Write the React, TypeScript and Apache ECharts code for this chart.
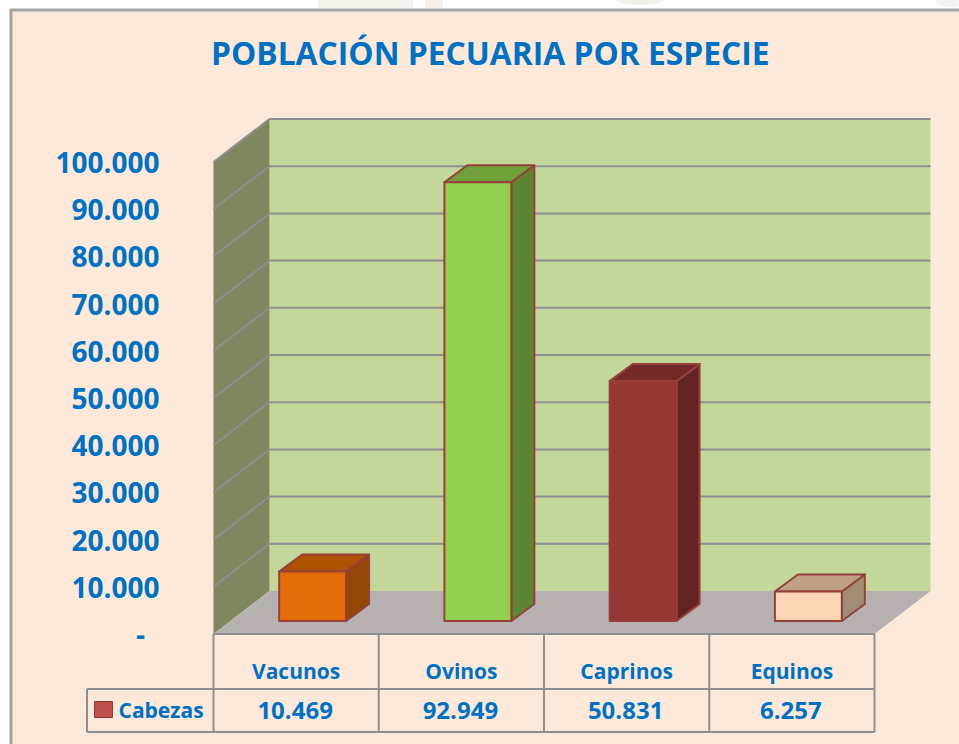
import React, { useEffect, useRef } from "react";
import * as echarts from "echarts";

const categories = ["Vacunos", "Ovinos", "Caprinos", "Equinos"];
const cabezas = [10469, 92949, 50831, 6257];
const yTicks = [0, 10000, 20000, 30000, 40000, 50000, 60000, 70000, 80000, 90000, 100000];
const seriesName = "Cabezas";
const titleText = "POBLACIÓN PECUARIA POR ESPECIE";

const faces = [
  { front: "#E36C09", top: "#AE5204", side: "#934605" },
  { front: "#92D050", top: "#6FA03A", side: "#5E8532" },
  { front: "#953735", top: "#742A28", side: "#632320" },
  { front: "#FCD5B5", top: "#BFA087", side: "#A38C75" },
];

const BLUE = "#0070C0";
const GREY = "#8E8E8E";
const EDGE = "#96403A";
const DX = 56;
const DY = 43;
const fmt = (v: number) => v.toLocaleString("de-DE");

export default function App() {
  const ref = useRef<HTMLDivElement>(null);
  useEffect(() => {
    const chart = echarts.init(ref.current!, null, { renderer: "svg" });
    chart.setOption({
      animation: false,
      backgroundColor: "#FFFFFF",
      title: {
        text: titleText,
        left: 206,
        top: 31,
        textStyle: { color: BLUE, fontFamily: "Open Sans", fontWeight: 700, fontSize: 31.8 },
      },
      legend: {
        data: [{ name: seriesName, icon: "rect" }],
        left: 94,
        top: 699,
        itemWidth: 18,
        itemHeight: 16,
        itemGap: 0,
        padding: 0,
        selectedMode: false,
        itemStyle: { color: "#C0504D", borderColor: "#8C3836", borderWidth: 1 },
        textStyle: { color: BLUE, fontFamily: "Open Sans", fontWeight: 700, fontSize: 21, padding: [0, 0, 0, 1] },
      },
      grid: { left: 213.5, top: 162, width: 661, height: 472 },
      xAxis: {
        type: "category",
        data: categories,
        axisLine: { show: false },
        axisTick: { show: false },
        splitLine: { show: false },
        axisLabel: {
          margin: 26,
          color: BLUE,
          fontFamily: "Open Sans",
          fontWeight: 700,
          fontSize: 21,
        },
      },
      yAxis: {
        type: "value",
        min: 0,
        max: 100000,
        interval: 10000,
        axisLine: { show: false },
        axisTick: { show: false },
        splitLine: { show: false },
        axisLabel: {
          margin: 54,
          formatter: (v: number) => (v === 0 ? "-\u00A0\u00A0" : fmt(v)),
          color: BLUE,
          fontFamily: "Open Sans",
          fontWeight: 700,
          fontSize: 28,
        },
      },
      graphic: [
        { type: "rect", z: -11, silent: true, shape: { x: 318, y: 0, width: 95, height: 8 }, style: { fill: "#F5F3ED" } },
        { type: "rect", z: -11, silent: true, shape: { x: 425, y: 0, width: 18, height: 8 }, style: { fill: "#F5F1EA" } },
        { type: "ellipse", z: -11, silent: true, shape: { cx: 640, cy: 0, rx: 24, ry: 5 }, style: { fill: "#F3F1EC" } },
        { type: "ellipse", z: -11, silent: true, shape: { cx: 950, cy: 0, rx: 14, ry: 7 }, style: { fill: "#F5F3EE" } },
        {
          type: "rect",
          z: -10,
          silent: true,
          shape: { x: 11, y: 10, width: 960, height: 760 },
          style: { fill: "#FDE9DA", stroke: "#A3A3A0", lineWidth: 3 },
        },
      ],
      series: [
        {
          type: "custom",
          name: "walls",
          z: 1,
          silent: true,
          data: [[0, 0]],
          renderItem: (params: any) => {
            const { x, y, width: w, height: h } = params.coordSys;
            const b = y + h;
            return {
              type: "group",
              children: [
                { type: "rect", shape: { x: x + DX, y: y - DY, width: w, height: h }, style: { fill: "#C4D79B" } },
                { type: "polygon", shape: { points: [[x, y], [x + DX, y - DY], [x + DX, b - DY], [x, b]] }, style: { fill: "#7F8760" } },
                { type: "polygon", shape: { points: [[x, b], [x + DX, b - DY], [x + w + DX, b - DY], [x + w, b]] }, style: { fill: "#B7B0B0" } },
              ],
            };
          },
        },
        {
          type: "custom",
          name: "gridlines",
          z: 2,
          silent: true,
          data: yTicks.slice(1).map((v) => [0, v]),
          renderItem: (params: any, api: any) => {
            const { x, width: w } = params.coordSys;
            const py = api.coord([0, api.value(1)])[1];
            const st = { stroke: GREY, lineWidth: 2 };
            return {
              type: "group",
              children: [
                { type: "line", shape: { x1: x, y1: py, x2: x + DX, y2: py - DY }, style: st },
                { type: "line", shape: { x1: x + DX, y1: py - DY, x2: x + DX + w, y2: py - DY }, style: st },
              ],
            };
          },
        },
        {
          type: "custom",
          name: seriesName,
          z: 3,
          silent: true,
          itemStyle: { color: "#C0504D" },
          data: cabezas.map((v, i) => [i, v]),
          renderItem: (_p: any, api: any) => {
            const i = api.value(0);
            const base = api.coord([i, 0]);
            const top = api.coord([i, api.value(1)]);
            const band = api.size([1, 0])[0];
            const bw = band * 0.405;
            const l = base[0] + 16.5 - bw / 2;
            const r = l + bw;
            const by = base[1] - 13;
            const ty = top[1] - 13;
            const dx = 23;
            const dy = 17;
            const c = faces[i];
            const edge = { stroke: EDGE, lineWidth: 2, lineJoin: "round" };
            return {
              type: "group",
              children: [
                { type: "polygon", shape: { points: [[r, ty], [r + dx, ty - dy], [r + dx, by - dy], [r, by]] }, style: { fill: c.side, ...edge } },
                { type: "polygon", shape: { points: [[l, ty], [l + dx, ty - dy], [r + dx, ty - dy], [r, ty]] }, style: { fill: c.top, ...edge } },
                { type: "rect", shape: { x: l, y: ty, width: bw, height: by - ty }, style: { fill: c.front, ...edge } },
              ],
            };
          },
        },
        {
          type: "custom",
          name: "table",
          z: 4,
          silent: true,
          data: cabezas.map((v, i) => [i, v]),
          renderItem: (params: any, api: any) => {
            const { x, y, width: w, height: h } = params.coordSys;
            const i = api.value(0);
            const band = api.size([1, 0])[0];
            const cx = api.coord([i, 0])[0];
            const b = y + h;
            const st = { stroke: GREY, lineWidth: 2 };
            const children: any[] = [
              { type: "line", shape: { x1: cx + band / 2, y1: b, x2: cx + band / 2, y2: b + 98 }, style: st },
              {
                type: "text",
                style: {
                  text: fmt(api.value(1)),
                  x: cx - 1,
                  y: b + 75,
                  align: "center",
                  verticalAlign: "middle",
                  fill: BLUE,
                  font: "700 24px 'Open Sans'",
                },
              },
            ];
            if (i === 0) {
              children.push(
                { type: "line", shape: { x1: x, y1: b, x2: x + w, y2: b }, style: st },
                { type: "line", shape: { x1: x, y1: b, x2: x, y2: b + 98 }, style: st },
                { type: "line", shape: { x1: 87, y1: b + 55, x2: x + w, y2: b + 55 }, style: st },
                { type: "line", shape: { x1: 87, y1: b + 98, x2: x + w, y2: b + 98 }, style: st },
                { type: "line", shape: { x1: 87, y1: b + 55, x2: 87, y2: b + 98 }, style: st }
              );
            }
            return { type: "group", children };
          },
        },
      ],
    });
    return () => chart.dispose();
  }, []);
  return <div ref={ref} style={{ position: "fixed", left: 0, top: 0, width: 959, height: 744 }} />;
}
